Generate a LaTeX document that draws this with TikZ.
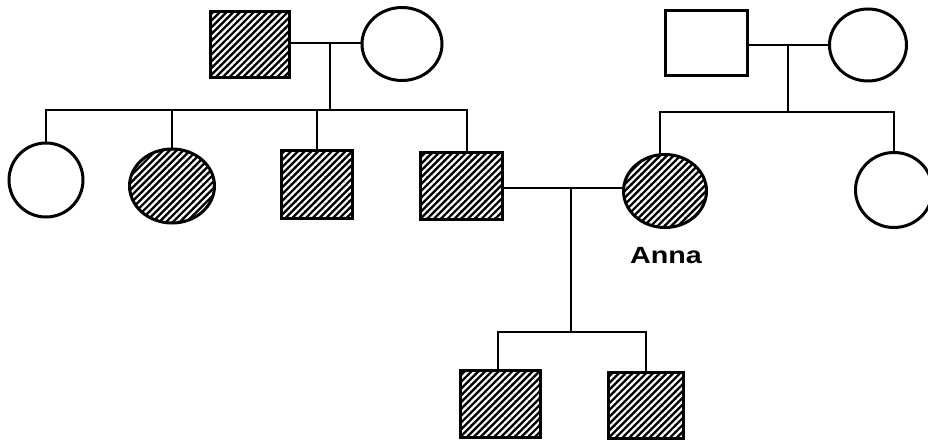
\documentclass[tikz,border=0pt]{standalone}
\usepackage{fontspec}
\setsansfont{Liberation Sans}
\usetikzlibrary{shapes.geometric,patterns.meta}
\begin{document}
\begin{tikzpicture}[x=1pt,y=-1pt,
  sym/.style={draw=black,line width=3pt,inner sep=0pt,outer sep=0pt},
  male/.style={sym,rectangle},
  female/.style={sym,ellipse},
  aff/.style={preaction={fill=black},pattern={Lines[angle=45,distance=4.8pt,line width=2.2pt]},pattern color=white},
  link/.style={draw=black,line width=1.3pt},
  lbl/.style={font=\sffamily\bfseries\fontsize{23.5}{26}\selectfont}]
\useasboundingbox (0,0) rectangle (928,439);
% grandparents left
\node[male,aff,minimum width=79pt,minimum height=66pt] (gf) at (250,44) {};
\node[female,minimum width=80pt,minimum height=73pt] (gm) at (402,44) {};
% grandparents right
\node[male,minimum width=82pt,minimum height=65pt] (gf2) at (706,43) {};
\node[female,minimum width=77pt,minimum height=72pt] (gm2) at (868,45) {};
% children of left family
\node[female,minimum width=74pt,minimum height=74pt] (c1) at (46,180) {};
\node[female,aff,minimum width=85pt,minimum height=74pt] (c2) at (172,186) {};
\node[male,aff,minimum width=71pt,minimum height=68pt] (c3) at (317,184) {};
\node[male,aff,minimum width=82pt,minimum height=67pt] (c4) at (461,186) {};
% children of right family
\node[female,aff,minimum width=83pt,minimum height=73pt] (anna) at (665,191) {};
\node[female,minimum width=77pt,minimum height=75pt] (c5) at (894,190) {};
\node[lbl] (annalbl) at (666,256) {\scalebox{1.22}[1]{Anna}};
% grandchildren
\node[male,aff,minimum width=80pt,minimum height=67pt] (s1) at (500,404) {};
\node[male,aff,minimum width=75pt,minimum height=66pt] (s2) at (646,405) {};
% junction coordinates
\coordinate (j1) at (330,43);
\coordinate (b1) at (330,110);
\coordinate (j2) at (788,45);
\coordinate (b2) at (788,112);
\coordinate (j3) at (571,188);
\coordinate (b3) at (571,332);
% left family
\draw[link] (gf.east |- j1) -- (gm.west |- j1);
\draw[link] (j1) -- (b1);
\draw[link] (c1.north) |- (b1) -| ([xshift=6pt]c4.north);
\draw[link] (c2.north) -- (c2.north |- b1);
\draw[link] (c3.north) -- (c3.north |- b1);
% right family
\draw[link] (gf2.east |- j2) -- (gm2.west |- j2);
\draw[link] (j2) -- (b2);
\draw[link] ([xshift=-5pt]anna.north) |- (b2) -| (c5.north);
% marriage
\draw[link] (c4.east |- j3) -- (anna.west |- j3);
\draw[link] (j3) -- (b3);
\draw[link] ([xshift=-2pt]s1.north) |- (b3) -| (s2.north);
\end{tikzpicture}
\end{document}
